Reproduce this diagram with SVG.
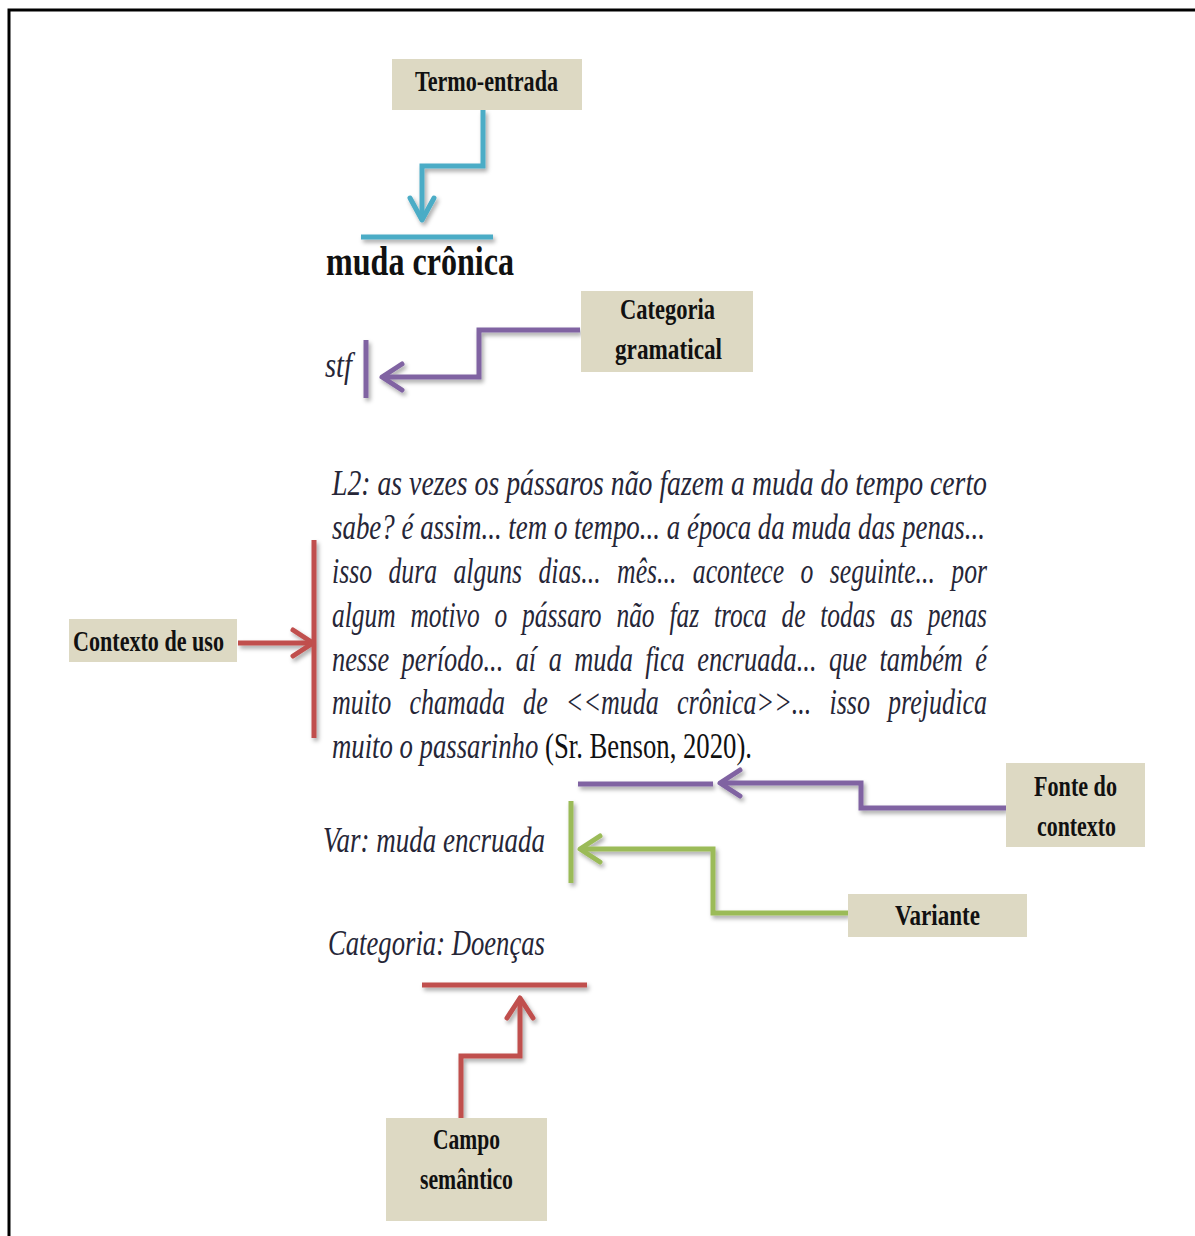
<svg xmlns="http://www.w3.org/2000/svg" width="1195" height="1236" viewBox="0 0 1195 1236">
<style>
.box{fill:#ddd9c3}
.lbl{font-family:"Liberation Serif","Times New Roman",serif;font-weight:bold;font-size:30px;fill:#111;text-anchor:start}
.it{font-family:"Liberation Serif","Times New Roman",serif;font-style:italic;font-size:36px;fill:#262637}
.rm{font-family:"Liberation Serif","Times New Roman",serif;font-style:normal;font-size:36px;fill:#111}
.c{fill:none;stroke-width:5;stroke-linejoin:miter;stroke-linecap:butt}
.blue{stroke:#4bacc6}.purple{stroke:#8064a2}.red{stroke:#c0504d}.green{stroke:#9bbb59}
</style>
<defs>
<filter id="sh" x="-20%" y="-20%" width="140%" height="140%">
<feDropShadow dx="2" dy="3" stdDeviation="2" flood-color="#000" flood-opacity="0.35"/>
</filter>
<marker id="ah-blue" markerUnits="userSpaceOnUse" viewBox="-26 -16 30 32" refX="0" refY="0" markerWidth="30" markerHeight="32" orient="auto" overflow="visible"><path d="M-22,-12 L0,0 L-22,12" fill="none" stroke="#4bacc6" stroke-width="5" stroke-linejoin="round" stroke-linecap="round"/></marker>
<marker id="ah-purple" markerUnits="userSpaceOnUse" viewBox="-26 -16 30 32" refX="0" refY="0" markerWidth="30" markerHeight="32" orient="auto" overflow="visible"><path d="M-20,-13 L0,0 L-20,13" fill="none" stroke="#8064a2" stroke-width="5" stroke-linejoin="round" stroke-linecap="round"/></marker>
<marker id="ah-red" markerUnits="userSpaceOnUse" viewBox="-26 -16 30 32" refX="0" refY="0" markerWidth="30" markerHeight="32" orient="auto" overflow="visible"><path d="M-20,-13 L0,0 L-20,13" fill="none" stroke="#c0504d" stroke-width="5" stroke-linejoin="round" stroke-linecap="round"/></marker>
<marker id="ah-green" markerUnits="userSpaceOnUse" viewBox="-26 -16 30 32" refX="0" refY="0" markerWidth="30" markerHeight="32" orient="auto" overflow="visible"><path d="M-20,-13 L0,0 L-20,13" fill="none" stroke="#9bbb59" stroke-width="5" stroke-linejoin="round" stroke-linecap="round"/></marker>
</defs>
<rect width="1195" height="1236" fill="#fff"/>
<path d="M9,1236 L9,10 L1195,10" fill="none" stroke="#000" stroke-width="3"/>

<g id="connectors" filter="url(#sh)">
<path class="c blue" d="M483,110 L483,166 L422,166 L422,220" marker-end="url(#ah-blue)"/>
<path class="c blue" d="M361,237 L493,237"/>
<path class="c purple" d="M580,330 L479,330 L479,377 L382,377" marker-end="url(#ah-purple)"/>
<path class="c purple" d="M366,340 L366,398"/>
<path class="c red" d="M238,643 L313,643" marker-end="url(#ah-red)"/>
<path class="c red" d="M314,540 L314,738"/>
<path class="c purple" d="M1006,808 L861,808 L861,783 L720,783" marker-end="url(#ah-purple)"/>
<path class="c purple" d="M578,784 L713,784"/>
<path class="c green" d="M848,913 L713,913 L713,849 L580,849" marker-end="url(#ah-green)"/>
<path class="c green" d="M571,801 L571,883"/>
<path class="c red" d="M461,1118 L461,1056 L520,1056 L520,998" marker-end="url(#ah-red)"/>
<path class="c red" d="M422,985 L587,985"/>
</g>

<g id="termo-entrada">
<rect class="box" x="392" y="59" width="190" height="51"/>
<text class="lbl" x="415" y="91" textLength="143" lengthAdjust="spacingAndGlyphs">Termo-entrada</text>
</g>
<g id="categoria-gramatical">
<rect class="box" x="581" y="291" width="172" height="81"/>
<text class="lbl" x="620" y="319" textLength="95" lengthAdjust="spacingAndGlyphs">Categoria</text>
<text class="lbl" x="615" y="359" textLength="107" lengthAdjust="spacingAndGlyphs">gramatical</text>
</g>
<g id="contexto-de-uso">
<rect class="box" x="69" y="619" width="168" height="43"/>
<text class="lbl" x="73" y="651" textLength="151" lengthAdjust="spacingAndGlyphs">Contexto de uso</text>
</g>
<g id="fonte-do-contexto">
<rect class="box" x="1006" y="763" width="139" height="84"/>
<text class="lbl" x="1034" y="796" textLength="83" lengthAdjust="spacingAndGlyphs">Fonte do</text>
<text class="lbl" x="1037" y="836" textLength="79" lengthAdjust="spacingAndGlyphs">contexto</text>
</g>
<g id="variante">
<rect class="box" x="848" y="894" width="179" height="43"/>
<text class="lbl" x="895" y="925" textLength="85" lengthAdjust="spacingAndGlyphs">Variante</text>
</g>
<g id="campo-semantico">
<rect class="box" x="386" y="1118" width="161" height="103"/>
<text class="lbl" x="433" y="1149" textLength="67" lengthAdjust="spacingAndGlyphs">Campo</text>
<text class="lbl" x="420" y="1189" textLength="93" lengthAdjust="spacingAndGlyphs">semântico</text>
</g>

<g id="entry-term">
<text x="326" y="275" font-family="Liberation Serif, Times New Roman, serif" font-weight="bold" font-size="43" fill="#111" textLength="188" lengthAdjust="spacingAndGlyphs">muda crônica</text>
</g>
<g id="entry-stf">
<text class="it" x="325" y="377" textLength="27" lengthAdjust="spacingAndGlyphs">stf</text>
</g>
<g id="entry-context">
<text class="it" x="332" y="495" textLength="655" lengthAdjust="spacingAndGlyphs">L2: as vezes os pássaros não fazem a muda do tempo certo</text>
<text class="it" x="332" y="539" textLength="653" lengthAdjust="spacingAndGlyphs">sabe? é assim... tem o tempo... a época da muda das penas...</text>
<text class="it" x="332" y="583" textLength="655" lengthAdjust="spacingAndGlyphs" word-spacing="14">isso dura alguns dias... mês... acontece o seguinte... por</text>
<text class="it" x="332" y="627" textLength="655" lengthAdjust="spacingAndGlyphs" word-spacing="12">algum motivo o pássaro não faz troca de todas as penas</text>
<text class="it" x="332" y="671" textLength="655" lengthAdjust="spacingAndGlyphs" word-spacing="8">nesse período... aí a muda fica encruada... que também é</text>
<text class="it" x="332" y="714" textLength="655" lengthAdjust="spacingAndGlyphs" word-spacing="16">muito chamada de &lt;&lt;muda crônica&gt;&gt;... isso prejudica</text>
<text x="332" y="758" textLength="420" lengthAdjust="spacingAndGlyphs"><tspan class="it">muito o passarinho </tspan><tspan class="rm">(Sr. Benson, 2020).</tspan></text>
</g>
<g id="entry-var">
<text class="it" x="323" y="852" textLength="222" lengthAdjust="spacingAndGlyphs">Var: muda encruada</text>
</g>
<g id="entry-categoria">
<text class="it" x="328" y="955" textLength="217" lengthAdjust="spacingAndGlyphs">Categoria: Doenças</text>
</g>
</svg>
